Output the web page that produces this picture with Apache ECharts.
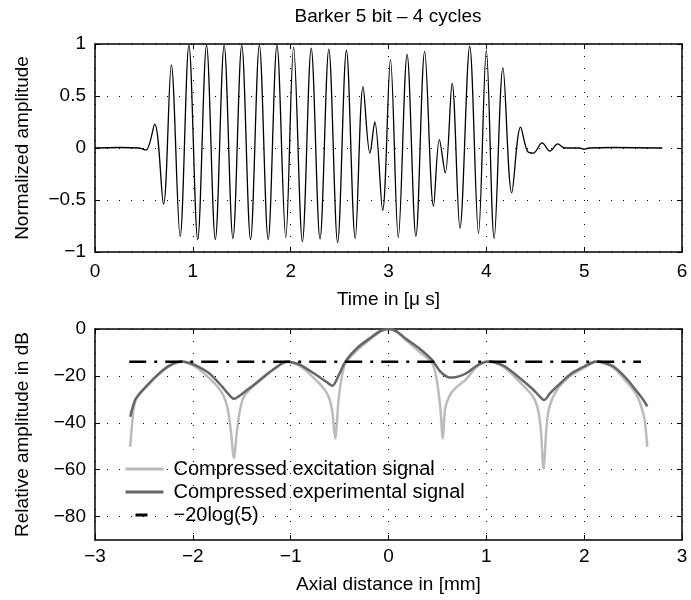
<!DOCTYPE html>
<html>
<head>
<meta charset="utf-8">
<script src="https://cdn.jsdelivr.net/npm/echarts@6/dist/echarts.min.js"></script>
<style>
html, body { margin: 0; padding: 0; background: #fff; }
#main { width: 691px; height: 600px; }
</style>
</head>
<body>
<div id="main"></div>
<script>
// upper plot: received signal, peaks and troughs
var timeUs = [0, 0.25, 0.45, 0.52, 0.61, 0.70, 0.78, 0.87, 0.96, 1.05, 1.14, 1.23, 1.32, 1.41, 1.50, 1.59,
  1.68, 1.77, 1.86, 1.95, 2.03, 2.12, 2.21, 2.30, 2.39, 2.48, 2.57, 2.66, 2.74, 2.81, 2.86, 2.94,
  3.02, 3.10, 3.19, 3.28, 3.37, 3.46, 3.52, 3.58, 3.65, 3.73, 3.83, 3.92, 4.00, 4.08, 4.17, 4.26,
  4.35, 4.42, 4.48, 4.57, 4.65, 4.73, 4.80, 4.95, 5.00, 5.05, 5.30, 5.80];
var amplitude = [0, 0.005, 0, -0.02, 0.23, -0.54, 0.80, -0.85, 0.99, -0.88, 0.99, -0.88, 0.99, -0.87, 0.99, -0.88,
  0.99, -0.88, 0.99, -0.86, 0.97, -0.90, 0.96, -0.875, 0.95, -0.91, 0.94, -0.87, 0.59, -0.05, 0.25, -0.60,
  0.85, -0.86, 0.90, -0.85, 0.93, -0.56, 0.08, -0.24, 0.62, -0.77, 0.98, -0.82, 0.94, -0.87, 0.77, -0.43,
  0.20, -0.03, -0.05, 0.05, -0.03, 0.04, 0, 0, -0.01, 0, 0.005, 0];

// lower plot: compressed signals in dB
var excX = [-2.64, -2.62, -2.60, -2.56, -2.48, -2.38, -2.28, -2.20, -2.12, -2.05, -1.97, -1.83, -1.74, -1.68, -1.64, -1.61,
  -1.58, -1.55, -1.52, -1.48, -1.40, -1.30, -1.15, -1.04, -0.90, -0.76, -0.66, -0.61, -0.575, -0.545, -0.51, -0.475,
  -0.44, -0.32, -0.18, -0.08, 0, 0.08, 0.17, 0.31, 0.445, 0.49, 0.53, 0.555, 0.58, 0.63, 0.69, 0.79,
  0.89, 0.96, 1.03, 1.19, 1.36, 1.47, 1.52, 1.555, 1.585, 1.615, 1.64, 1.72, 1.86, 2.00, 2.13, 2.30,
  2.43, 2.54, 2.61, 2.63, 2.645];
var excDb = [-50.3, -40, -33, -28, -25.0, -20.6, -17.0, -15.0, -14.0, -14.6, -16.2, -21.0, -25, -29, -35, -44,
  -55, -44, -35, -29, -25, -21, -16.5, -14.0, -16.0, -21.0, -25.5, -29, -35, -46.7, -30, -20,
  -14.5, -9, -4.2, -1, 0, -1.2, -4.4, -9.5, -14.5, -21, -33.7, -46.7, -33.7, -28, -25, -21.6,
  -16.6, -14.6, -14.0, -16.6, -23.4, -28.4, -33, -42, -59.5, -42, -34, -26, -20, -16.5, -14.0, -16.6,
  -22.4, -28.4, -37, -43, -50.3];

var expX = [-2.64, -2.59, -2.53, -2.48, -2.38, -2.28, -2.20, -2.12, -2.05, -1.97, -1.83, -1.70, -1.64, -1.58, -1.50, -1.42,
  -1.34, -1.25, -1.15, -1.04, -0.95, -0.90, -0.76, -0.64, -0.575, -0.51, -0.44, -0.32, -0.18, -0.08, 0, 0.08,
  0.17, 0.31, 0.445, 0.53, 0.60, 0.65, 0.72, 0.79, 0.89, 0.96, 1.03, 1.10, 1.19, 1.36, 1.47, 1.54,
  1.59, 1.65, 1.72, 1.86, 2.00, 2.07, 2.13, 2.20, 2.30, 2.43, 2.54, 2.60, 2.645];
var expDb = [-37.4, -30.3, -27, -24.6, -20.3, -16.7, -14.8, -13.9, -14.3, -15.5, -19.0, -24.6, -27.6, -29.8, -27.8, -25.2,
  -22.7, -19.6, -16.4, -14.0, -14.6, -15.3, -19.0, -22.4, -24.2, -19.8, -13.8, -8.1, -3.6, -0.8, 0, -0.9,
  -3.9, -8.1, -13.2, -18.2, -20.4, -20.7, -20.2, -19.0, -16.0, -14.4, -13.9, -14.4, -16.0, -21.5, -25.5, -28.5,
  -30.3, -27.5, -24.6, -19.3, -16.0, -14.5, -13.9, -14.4, -16.0, -21.0, -26.7, -30.0, -33.0];

var refX = [-2.65, 2.58];
var refDb = [-13.98, -13.98];

var timeTicks = [0, 1, 2, 3, 4, 5, 6];
var ampTicks = [-1, -0.5, 0, 0.5, 1];
var mmTicks = [-3, -2, -1, 0, 1, 2, 3];
var dbTicks = [-80, -60, -40, -20, 0];

var seriesNames = ['Compressed excitation signal', 'Compressed experimental signal', '\u221220log(5)'];

function pairs(xs, ys) {
  return xs.map(function (x, i) { return [x, ys[i]]; });
}
function minus(v) {
  return String(v).replace('-', '\u2212');
}

var font = 'Liberation Sans';
var black = '#000';
var gridLine = { show: true, lineStyle: { color: black, width: 1, type: [1, 11] } };

function mainAxis(grid, ticks, name, gap, margin) {
  return {
    type: 'value', gridIndex: grid,
    min: ticks[0], max: ticks[ticks.length - 1],
    name: name, nameLocation: 'middle', nameGap: gap,
    nameTextStyle: { color: black, fontSize: 19, fontFamily: font },
    axisLine: { show: true, onZero: false, lineStyle: { color: black, width: 1.5 } },
    axisTick: { show: true, inside: true, length: 5, customValues: ticks, lineStyle: { color: black } },
    axisLabel: { color: black, fontSize: 19, fontFamily: font, margin: margin,
      customValues: ticks, formatter: minus },
    splitLine: gridLine
  };
}
function mirrorAxis(grid, ticks, pos) {
  return {
    type: 'value', gridIndex: grid, position: pos,
    min: ticks[0], max: ticks[ticks.length - 1],
    axisLine: { show: true, onZero: false, lineStyle: { color: black, width: 1.5 } },
    axisTick: { show: true, inside: true, length: 5, customValues: ticks, lineStyle: { color: black } },
    axisLabel: { show: false },
    splitLine: { show: false }
  };
}

var yDb = mainAxis(1, dbTicks, 'Relative amplitude in dB', 63, 9);
yDb.min = -90;
var yDbR = mirrorAxis(1, dbTicks, 'right');
yDbR.min = -90;

var chart = echarts.init(document.getElementById('main'));
var option = {
  animation: false,
  backgroundColor: '#fff',
  textStyle: { fontFamily: font },
  graphic: [{
    type: 'text', x: 388, y: 17,
    style: { text: 'Barker 5 bit \u2013 4 cycles', fill: black, font: '19px "Liberation Sans"',
      textAlign: 'center', textVerticalAlign: 'middle' }
  }],
  grid: [
    { left: 95, top: 44, width: 587, height: 208 },
    { left: 95, top: 329, width: 587, height: 211 }
  ],
  xAxis: [
    mainAxis(0, timeTicks, 'Time in [\u03bc s]', 38, 10),
    mirrorAxis(0, timeTicks, 'top'),
    mainAxis(1, mmTicks, 'Axial distance in [mm]', 35, 7),
    mirrorAxis(1, mmTicks, 'top')
  ],
  yAxis: [
    mainAxis(0, ampTicks, 'Normalized amplitude', 63, 9),
    mirrorAxis(0, ampTicks, 'right'),
    yDb,
    yDbR
  ],
  legend: {
    data: [
      { name: seriesNames[0] },
      { name: seriesNames[1] },
      { name: seriesNames[2], lineStyle: { width: 3, type: [0, 10, 12, 40] } }
    ],
    orient: 'vertical',
    left: 119, top: 454,
    itemWidth: 38, itemHeight: 14, itemGap: 3,
    itemStyle: { opacity: 0 },
    lineStyle: { width: 3 },
    textStyle: { color: black, fontSize: 20, fontFamily: font, padding: [0, 0, 0, 5] }
  },
  series: [
    {
      name: 'signal', type: 'line', xAxisIndex: 0, yAxisIndex: 0,
      data: pairs(timeUs, amplitude),
      symbol: 'none', smooth: 0.35,
      lineStyle: { color: black, width: 1.3 }
    },
    {
      name: seriesNames[0], type: 'line', xAxisIndex: 2, yAxisIndex: 2,
      data: pairs(excX, excDb),
      symbol: 'none', smooth: 0.3,
      itemStyle: { color: '#bbbbbb' },
      lineStyle: { color: '#bbbbbb', width: 2.5 }
    },
    {
      name: seriesNames[1], type: 'line', xAxisIndex: 2, yAxisIndex: 2,
      data: pairs(expX, expDb),
      symbol: 'none', smooth: 0.3,
      itemStyle: { color: '#666666' },
      lineStyle: { color: '#666666', width: 2.5 }
    },
    {
      name: seriesNames[2], type: 'line', xAxisIndex: 2, yAxisIndex: 2,
      data: pairs(refX, refDb),
      symbol: 'none',
      itemStyle: { color: black },
      lineStyle: { color: black, width: 2.5, type: [17, 8, 3, 8] }
    }
  ]
};
chart.setOption(option);
</script>
</body>
</html>
